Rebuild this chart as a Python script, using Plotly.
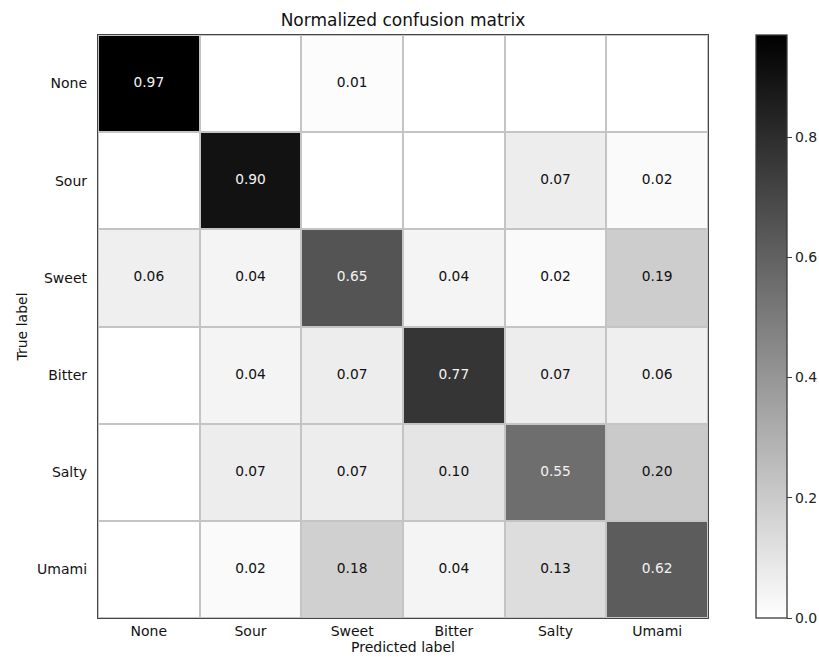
import plotly.graph_objects as go

labels = ["None", "Sour", "Sweet", "Bitter", "Salty", "Umami"]

# rows = true label, columns = predicted label
row_none = [0.97, 0.00, 0.01, 0.00, 0.00, 0.00]
row_sour = [0.00, 0.90, 0.00, 0.00, 0.07, 0.02]
row_sweet = [0.06, 0.04, 0.65, 0.04, 0.02, 0.19]
row_bitter = [0.00, 0.04, 0.07, 0.77, 0.07, 0.06]
row_salty = [0.00, 0.07, 0.07, 0.10, 0.55, 0.20]
row_umami = [0.00, 0.02, 0.18, 0.04, 0.13, 0.62]

cm = [row_none, row_sour, row_sweet, row_bitter, row_salty, row_umami]
cbar_ticks = [0.0, 0.2, 0.4, 0.6, 0.8]

# linear white -> black
binary = [[0.0, "#ffffff"], [1.0, "#000000"]]

vmax = max(max(r) for r in cm)
thresh = vmax / 2.0
FONT = "DejaVu Sans, Verdana, sans-serif"

L, R, T, B = 98, 111, 35, 39
W, H = 819, 657
plot_w = W - L - R

fig = go.Figure()
fig.add_trace(go.Heatmap(
    z=cm, x=labels, y=labels,
    colorscale=binary, zmin=0, zmax=vmax,
    xgap=2, ygap=2,
    hoverinfo="skip",
    colorbar=dict(
        x=(756 - L) / plot_w, xanchor="left", xref="paper", xpad=0,
        y=0.5, yanchor="middle", len=1.0, lenmode="fraction", ypad=0,
        thickness=31, outlinewidth=1.3, outlinecolor="#3a3a3a",
        tickvals=cbar_ticks, ticktext=[f"{t:.1f}" for t in cbar_ticks],
        ticks="outside", ticklen=5, tickcolor="#3a3a3a",
        tickfont=dict(family=FONT, size=14, color="#222222"),
    ),
))

# cell labels: white on dark cells, black on light ones; zeros left blank
tx, ty, tt, tc = [], [], [], []
for i, row in enumerate(cm):
    for j, v in enumerate(row):
        if v > 0:
            tx.append(labels[j])
            ty.append(labels[i])
            tt.append(f"{v:.2f}")
            tc.append("#f2f2f2" if v > thresh else "#111111")

fig.add_trace(go.Scatter(
    x=tx, y=ty, text=tt, mode="text",
    textfont=dict(family=FONT, size=13.8, color=tc),
    hoverinfo="skip", showlegend=False,
))

fig.update_layout(
    width=W, height=H,
    margin=dict(l=L, r=R, t=T, b=B, autoexpand=False),
    paper_bgcolor="white",
    plot_bgcolor="#c4c4c4",
    title=dict(text="Normalized confusion matrix", x=0.5, xref="paper",
               xanchor="center", y=1 - 20 / H, yanchor="middle",
               font=dict(family=FONT, size=17, color="#111111")),
    font=dict(family=FONT, color="#111111"),
    showlegend=False,
)
fig.update_xaxes(
    type="category", categoryorder="array", categoryarray=labels,
    showgrid=False, zeroline=False, automargin=False,
    showline=True, mirror=True, linecolor="#454545", linewidth=1.3,
    ticks="", tickfont=dict(family=FONT, size=14, color="#111111"),
    title=dict(text="Predicted label", standoff=4,
               font=dict(family=FONT, size=14, color="#111111")),
)
fig.update_yaxes(
    type="category", categoryorder="array", categoryarray=labels,
    autorange="reversed",
    showgrid=False, zeroline=False, automargin=False,
    showline=True, mirror=True, linecolor="#454545", linewidth=1.3,
    ticks="", ticklabelstandoff=7, tickfont=dict(family=FONT, size=14, color="#111111"),
    title=dict(text="True label", standoff=6,
               font=dict(family=FONT, size=14, color="#111111")),
)

fig.write_html("out.html")
